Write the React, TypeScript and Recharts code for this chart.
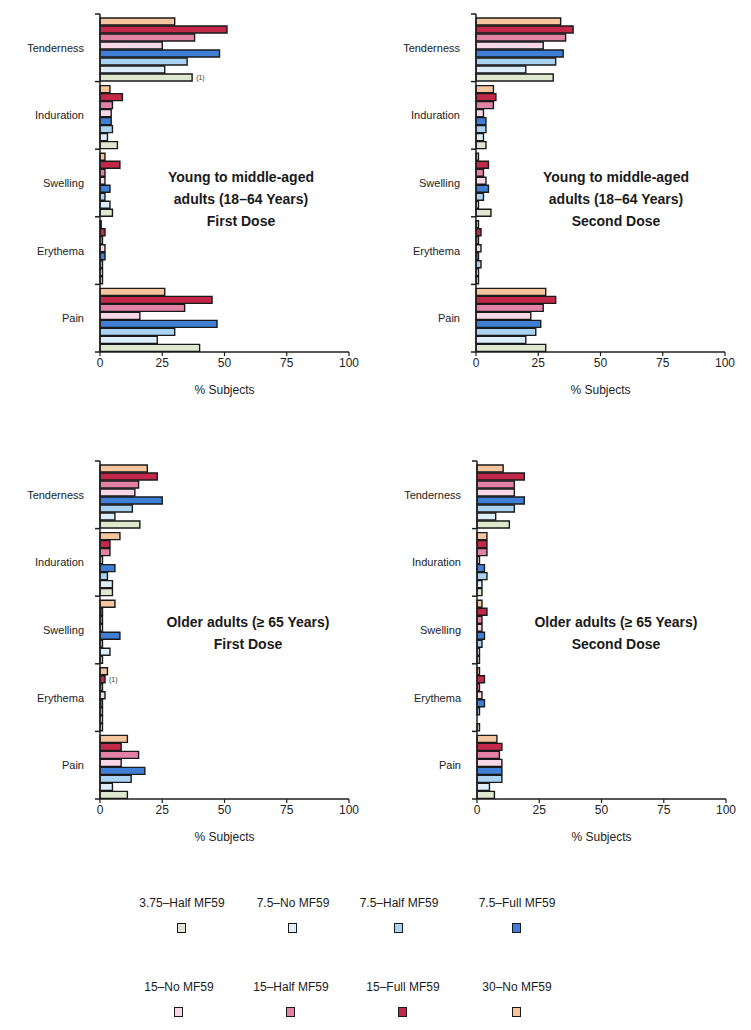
import { BarChart, Bar, XAxis, YAxis, LabelList } from 'recharts';

const categories = ['Tenderness', 'Induration', 'Swelling', 'Erythema', 'Pain'];

const seriesNames = [
  '3.75–Half MF59',
  '7.5–No MF59',
  '7.5–Half MF59',
  '7.5–Full MF59',
  '15–No MF59',
  '15–Half MF59',
  '15–Full MF59',
  '30–No MF59',
];

const seriesColors = ['#dfe7cf', '#ddeefb', '#a9d2f3', '#3f7fd6', '#f8d7e6', '#e283a6', '#c3284a', '#f6c49d'];

const xTicks = [0, 25, 50, 75, 100];

// rows follow seriesNames, columns follow categories (% subjects)
const youngFirst = [
  [37, 7, 5, 1, 40],
  [26, 3, 4, 1, 23],
  [35, 5, 2, 1, 30],
  [48, 4.5, 4, 2, 47],
  [25, 4.5, 2, 2, 16],
  [38, 5, 2, 1, 34],
  [51, 9, 8, 2, 45],
  [30, 4, 2, 0.5, 26],
];

const youngSecond = [
  [31, 4, 6, 1, 28],
  [20, 3, 1, 1, 20],
  [32, 4, 3, 2, 24],
  [35, 4, 5, 1, 26],
  [27, 3, 4, 2, 22],
  [36, 7, 3, 1, 27],
  [39, 8, 5, 2, 32],
  [34, 7, 1, 1, 28],
];

const olderFirst = [
  [16, 5, 1, 1, 11],
  [6, 5, 4, 1, 5],
  [13, 3, 1, 1, 12.5],
  [25, 6, 8, 1, 18],
  [14, 1, 1, 2, 8.5],
  [15.5, 4, 1, 1, 15.5],
  [23, 4, 1, 2, 8.5],
  [19, 8, 6, 3, 11],
];

const olderSecond = [
  [13, 2, 1, 1, 7],
  [7.5, 2, 1, 0, 5],
  [15, 4, 2, 1, 10],
  [19, 3, 3, 3, 10],
  [15, 1, 2, 2, 10],
  [15, 4, 2, 1, 9],
  [19, 4, 4, 3, 10],
  [10.5, 4, 2, 1, 8],
];

const FONT = '"Liberation Sans", Arial, sans-serif';
const CHART_W = 375;
const CHART_H = 400;
const PLOT_W = 249;
const PLOT_H = 338;
const Y_AXIS_W = 80;
const AXIS = '#1e1e1e';

type Note = { series: number; category: number };

type PanelProps = {
  left: number;
  top: number;
  plotX: number;
  values: number[][];
  title: string[];
  titleX: number;
  titleY: number;
  note?: Note;
};

function Panel({ left, top, plotX, values, title, titleX, titleY, note }: PanelProps) {
  const rows = categories.map((cat, ci) => {
    const row: Record<string, string | number> = { cat };
    values.forEach((vals, si) => {
      row[`s${si}`] = vals[ci];
    });
    return row;
  });

  const band = PLOT_H / categories.length;
  const marginLeft = plotX - left - Y_AXIS_W;
  const marginRight = CHART_W - (plotX - left) - PLOT_W;

  const renderTick = (props: any) => {
    const { x, y, payload, index } = props;
    const axisX = x + 16;
    return (
      <g>
        <text x={x} y={y} dy={4} textAnchor="end" fontSize={11} fill="#222" fontFamily={FONT}>
          {payload.value}
        </text>
        <line x1={axisX - 5} x2={axisX} y1={y - band / 2} y2={y - band / 2} stroke={AXIS} strokeWidth={1.5} />
        {index === categories.length - 1 && (
          <line x1={axisX - 5} x2={axisX} y1={y + band / 2} y2={y + band / 2} stroke={AXIS} strokeWidth={1.5} />
        )}
      </g>
    );
  };

  // bars top to bottom inside a band: 30-No first, 3.75-Half last
  const order = seriesNames.map((_, i) => i).reverse();

  return (
    <div style={{ position: 'absolute', left, top, width: CHART_W, height: CHART_H }}>
      <BarChart
        width={CHART_W}
        height={CHART_H}
        data={rows}
        layout="vertical"
        margin={{ top: 14, right: marginRight, bottom: 2, left: marginLeft }}
        barCategoryGap={4}
        barGap={1}
      >
        <XAxis
          type="number"
          domain={[0, 100]}
          ticks={xTicks}
          tickSize={4}
          tick={{ fontSize: 12, fill: '#222', fontFamily: FONT }}
          axisLine={{ stroke: AXIS, strokeWidth: 1.5 }}
          tickLine={{ stroke: AXIS, strokeWidth: 1.2 }}
          height={46}
          label={{ value: '% Subjects', position: 'insideBottom', offset: 4, fontSize: 12, fill: '#222', fontFamily: FONT }}
        />
        <YAxis
          type="category"
          dataKey="cat"
          width={Y_AXIS_W}
          tickSize={6}
          tickMargin={10}
          tickLine={false}
          axisLine={{ stroke: AXIS, strokeWidth: 1.5 }}
          tick={renderTick}
          interval={0}
        />
        {order.map((si) => (
          <Bar
            key={si}
            dataKey={`s${si}`}
            fill={seriesColors[si]}
            stroke="#1a1a1a"
            strokeWidth={1.4}
            isAnimationActive={false}
          >
            {note && note.series === si && (
              <LabelList
                dataKey={`s${si}`}
                content={(p: any) =>
                  p.index === note.category ? (
                    <text
                      x={Number(p.x) + Number(p.width) + 4}
                      y={Number(p.y) + Number(p.height) / 2 + 2.5}
                      fontSize={7}
                      fill="#333"
                      fontFamily={FONT}
                    >
                      (1)
                    </text>
                  ) : null
                }
              />
            )}
          </Bar>
        ))}
      </BarChart>
      <div
        style={{
          position: 'absolute',
          left: titleX - left - 110,
          top: titleY - top - 11,
          width: 220,
          textAlign: 'center',
          fontFamily: FONT,
          fontWeight: 'bold',
          fontSize: 14,
          lineHeight: '22px',
          color: '#1a1a1a',
        }}
      >
        {title.map((t) => (
          <div key={t}>{t}</div>
        ))}
      </div>
    </div>
  );
}

const legendRows = [
  { y: 903, idx: [0, 1, 2, 3], cx: [182, 293, 399, 517] },
  { y: 987, idx: [4, 5, 6, 7], cx: [179, 291, 403, 517] },
];

function Legend() {
  return (
    <>
      {legendRows.map((row) =>
        row.idx.map((si, k) => (
          <div key={si}>
            <div
              style={{
                position: 'absolute',
                left: row.cx[k] - 60,
                top: row.y - 8,
                width: 120,
                textAlign: 'center',
                fontFamily: FONT,
                fontSize: 12,
                lineHeight: '16px',
                color: '#1a1a1a',
              }}
            >
              {seriesNames[si]}
            </div>
            <div
              style={{
                position: 'absolute',
                left: row.cx[k] - 5,
                top: row.y + 20,
                width: 7,
                height: 8,
                background: seriesColors[si],
                border: '1.5px solid #1a1a1a',
              }}
            />
          </div>
        ))
      )}
    </>
  );
}

export default function App() {
  return (
    <div style={{ position: 'absolute', left: 0, top: 0, width: 751, height: 1030, background: '#fff' }}>
      <Panel
        left={0}
        top={0}
        plotX={100}
        values={youngFirst}
        title={['Young to middle-aged', 'adults (18–64 Years)', 'First Dose']}
        titleX={241}
        titleY={177}
        note={{ series: 0, category: 0 }}
      />
      <Panel
        left={375}
        top={0}
        plotX={476}
        values={youngSecond}
        title={['Young to middle-aged', 'adults (18–64 Years)', 'Second Dose']}
        titleX={616}
        titleY={177}
      />
      <Panel
        left={0}
        top={447}
        plotX={100}
        values={olderFirst}
        title={['Older adults (≥ 65 Years)', 'First Dose']}
        titleX={248}
        titleY={622}
        note={{ series: 6, category: 3 }}
      />
      <Panel
        left={375}
        top={447}
        plotX={477}
        values={olderSecond}
        title={['Older adults (≥ 65 Years)', 'Second Dose']}
        titleX={616}
        titleY={622}
      />
      <Legend />
    </div>
  );
}
